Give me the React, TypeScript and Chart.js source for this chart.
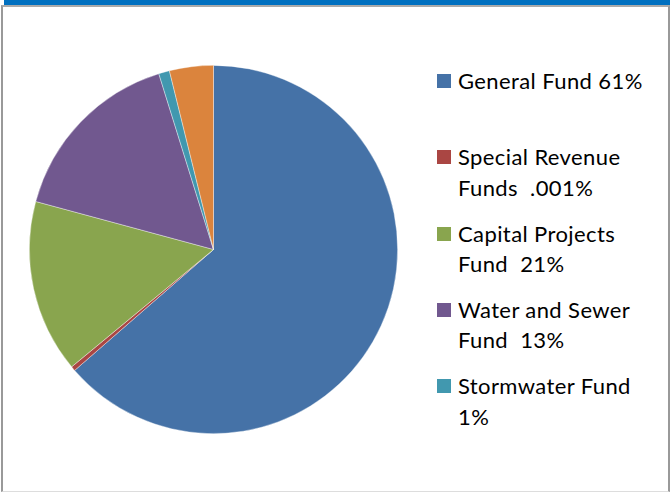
import React, { useEffect, useRef } from "react";
import { Chart, registerables } from "chart.js";

Chart.register(...registerables);

// Categories (legend text, with the line breaks seen in the reference)
const categories = [
  "General Fund 61%",
  "Special Revenue\nFunds  .001%",
  "Capital Projects\nFund  21%",
  "Water and Sewer\nFund  13%",
  "Stormwater Fund\n1%",
  "Other Funds",
];
// Slice shares (percent of the full circle)
const shareValues = [63.6, 0.4, 15.2, 16.0, 0.95, 3.85];
const sliceColors = ["#4572A7", "#AA4643", "#89A54E", "#71588F", "#4198AF", "#DB843D"];
const inLegend = [true, true, true, true, true, false];

export default function App() {
  const canvasRef = useRef<HTMLCanvasElement | null>(null);

  useEffect(() => {
    if (!canvasRef.current) return;
    const chart = new Chart(canvasRef.current, {
      type: "pie",
      data: {
        labels: categories.map((c) => c.replace("\n", " ")),
        datasets: [
          {
            data: shareValues,
            backgroundColor: sliceColors,
            borderColor: "rgba(255,255,255,0.5)",
            borderWidth: 0.75,
            hoverOffset: 0,
            offset: 0,
          },
        ],
      },
      options: {
        responsive: false,
        animation: false,
        layout: { padding: 0 },
        plugins: {
          legend: { display: false },
          tooltip: { enabled: false },
        },
      },
    });
    return () => chart.destroy();
  }, []);

  return (
    <div
      style={{
        position: "absolute",
        left: 0,
        top: 0,
        width: 670,
        height: 492,
        background: "#fff",
        overflow: "hidden",
        fontFamily: "Lato, 'Open Sans', sans-serif",
      }}
    >
      <div style={{ position: "absolute", left: 4, top: 0, width: 666, height: 5, background: "#0070C0" }} />
      <div
        style={{
          position: "absolute",
          left: 1,
          top: 5,
          width: 665,
          height: 484,
          borderLeft: "2px solid #999",
          borderTop: "2px solid #aaa",
          borderRight: "2px solid #999",
          borderBottom: "1px solid #ddd",
        }}
      />
      <canvas
        ref={canvasRef}
        width={369}
        height={369}
        style={{ position: "absolute", left: 29, top: 65, width: 369, height: 369 }}
      />
      {categories.map((c, i) =>
        inLegend[i] ? (
          <div
            key={i}
            style={{ position: "absolute", left: 437, top: 66 + i * 76.25, width: 230 }}
          >
            <div
              style={{
                position: "absolute",
                left: 0,
                top: 8,
                width: 14,
                height: 14,
                background: sliceColors[i],
              }}
            />
            <div
              style={{
                position: "absolute",
                left: 21,
                top: 0,
                fontSize: 22,
                letterSpacing: "0.4px",
                lineHeight: "30.5px",
                color: "#000",
                whiteSpace: "pre",
              }}
            >
              {c}
            </div>
          </div>
        ) : null
      )}
    </div>
  );
}
